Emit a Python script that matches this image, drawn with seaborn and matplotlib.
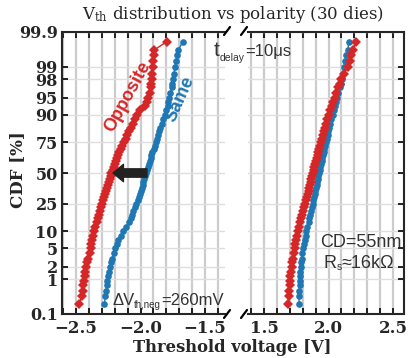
import numpy as np
import pandas as pd
import matplotlib
matplotlib.use('Agg')
import matplotlib.pyplot as plt
import seaborn as sns
from matplotlib.lines import Line2D
from matplotlib.ticker import MultipleLocator
from statistics import NormalDist

# cumulative probability [%] of each plotted point (shared by all four curves)
cdf_pct = [0.2, 0.35, 0.5, 0.7, 0.9, 1.2, 1.5, 2, 2.5, 3, 4, 5, 6, 7, 8.5, 10,
           12, 14, 16, 18, 20, 22.5, 25, 27.5, 30, 32.5, 35, 37.5, 40, 42.5, 45, 47.5,
           50, 52.5, 55, 57.5, 60, 62.5, 65, 67.5, 70, 72.5, 75, 77.5, 80, 82, 84, 86,
           88, 90, 91.5, 93, 94, 95, 96, 97, 97.5, 98, 98.5, 99, 99.3, 99.5, 99.65, 99.8]

# negative Vth, opposite polarity
vth_opp_neg = [-2.474, -2.455, -2.449, -2.443, -2.439, -2.434, -2.428, -2.420,
               -2.411, -2.404, -2.395, -2.386, -2.380, -2.374, -2.366, -2.360,
               -2.350, -2.340, -2.331, -2.322, -2.314, -2.306, -2.298, -2.290,
               -2.282, -2.274, -2.266, -2.258, -2.251, -2.244, -2.237, -2.231,
               -2.225, -2.217, -2.209, -2.200, -2.192, -2.183, -2.174, -2.164,
               -2.155, -2.143, -2.130, -2.116, -2.102, -2.090, -2.076, -2.060,
               -2.045, -2.028, -2.005, -1.968, -1.950, -1.938, -1.930, -1.922,
               -1.918, -1.914, -1.909, -1.904, -1.901, -1.897, -1.893, -1.797]
# negative Vth, same polarity
vth_same_neg = [-2.280, -2.273, -2.267, -2.262, -2.258, -2.252, -2.246, -2.236,
                -2.226, -2.218, -2.207, -2.198, -2.185, -2.172, -2.155, -2.135,
                -2.110, -2.090, -2.075, -2.064, -2.055, -2.044, -2.032, -2.022,
                -2.013, -2.005, -1.997, -1.990, -1.983, -1.977, -1.971, -1.965,
                -1.955, -1.949, -1.942, -1.936, -1.929, -1.922, -1.915, -1.907,
                -1.899, -1.891, -1.882, -1.873, -1.863, -1.855, -1.846, -1.836,
                -1.824, -1.811, -1.800, -1.790, -1.783, -1.776, -1.768, -1.759,
                -1.754, -1.748, -1.741, -1.732, -1.724, -1.716, -1.706, -1.673]
# positive Vth, opposite polarity
vth_opp_pos = [1.686, 1.690, 1.694, 1.698, 1.701, 1.705, 1.709, 1.714,
               1.719, 1.723, 1.730, 1.737, 1.744, 1.750, 1.758, 1.765,
               1.774, 1.782, 1.790, 1.797, 1.804, 1.812, 1.819, 1.826,
               1.833, 1.839, 1.845, 1.851, 1.857, 1.863, 1.868, 1.874,
               1.880, 1.886, 1.891, 1.897, 1.903, 1.909, 1.915, 1.921,
               1.928, 1.935, 1.942, 1.949, 1.957, 1.964, 1.972, 1.981,
               1.991, 2.002, 2.013, 2.026, 2.036, 2.047, 2.060, 2.076,
               2.087, 2.100, 2.118, 2.150, 2.167, 2.178, 2.190, 2.215]
# positive Vth, same polarity
vth_same_pos = [1.771, 1.772, 1.774, 1.776, 1.778, 1.780, 1.782, 1.785,
                1.788, 1.791, 1.797, 1.803, 1.809, 1.815, 1.822, 1.829,
                1.837, 1.845, 1.852, 1.858, 1.864, 1.870, 1.876, 1.882,
                1.887, 1.892, 1.897, 1.902, 1.907, 1.912, 1.917, 1.922,
                1.927, 1.932, 1.937, 1.942, 1.947, 1.952, 1.957, 1.962,
                1.968, 1.974, 1.980, 1.986, 1.993, 1.999, 2.006, 2.013,
                2.022, 2.032, 2.041, 2.051, 2.058, 2.066, 2.076, 2.088,
                2.094, 2.102, 2.110, 2.120, 2.128, 2.137, 2.149, 2.158]

ytick_pct = [0.1, 1, 2, 5, 10, 25, 50, 75, 90, 95, 98, 99, 99.9]
ytick_labels = ['0.1', '1', '2', '5', '10', '25', '50', '75', '90', '95', '98', '99', '99.9']
xticks_neg = [-2.5, -2.0, -1.5]
xticks_pos = [1.5, 2.0, 2.5]

RED = '#d62728'
BLUE = '#1f77b4'
TXT = '#333333'
W, H = 408, 358


def probit(p):
    nd = NormalDist()
    return np.array([nd.inv_cdf(v / 100.0) for v in p])


z = probit(cdf_pct)
frames = []
for side, pol, vals in [('neg', 'Same', vth_same_neg), ('neg', 'Opposite', vth_opp_neg),
                        ('pos', 'Same', vth_same_pos), ('pos', 'Opposite', vth_opp_pos)]:
    frames.append(pd.DataFrame({'vth': vals, 'z': z, 'polarity': pol, 'side': side}))
df = pd.concat(frames, ignore_index=True)

sns.set_style('ticks')
plt.rcParams['font.family'] = 'DejaVu Serif'
plt.rcParams['mathtext.fontset'] = 'dejavuserif'


def px(x0, y0, x1, y1):
    return [x0 / W, 1 - y1 / H, (x1 - x0) / W, (y1 - y0) / H]


fig = plt.figure(figsize=(W / 100, H / 100), dpi=100)
ax1 = fig.add_axes(px(62, 32, 225, 314))
ax2 = fig.add_axes(px(248, 32, 404, 314))

zt = probit(ytick_pct)
for ax, side, xlim, xt in [(ax1, 'neg', (-2.6085, -1.345), xticks_neg),
                           (ax2, 'pos', (1.376, 2.585), xticks_pos)]:
    sns.lineplot(data=df[df.side == side], x='vth', y='z', hue='polarity', style='polarity',
                 hue_order=['Same', 'Opposite'], style_order=['Same', 'Opposite'],
                 palette={'Same': BLUE, 'Opposite': RED},
                 markers={'Same': 'o', 'Opposite': 'D'}, dashes=False,
                 sort=False, estimator=None, legend=False, ax=ax,
                 lw=1, ms=4.8, mew=0)
    ax.set_xlim(*xlim)
    ax.set_ylim(zt[0], zt[-1])
    ax.set_xlabel('')
    ax.set_ylabel('')
    ax.set_xticks(xt, labels=[f'{t:.1f}'.replace('-', '\u2212') for t in xt],
                  fontweight='bold', fontsize=12)
    ax.xaxis.set_minor_locator(MultipleLocator(0.1))
    ax.set_yticks(zt)
    ax.set_axisbelow(True)
    ax.grid(which='both', axis='x', color='#cccccc', lw=1.6)
    ax.grid(which='major', axis='y', color='#dedede', lw=1)
    ax.tick_params(which='both', direction='in', top=True, bottom=True,
                   length=4.5, width=1.2, color='k', pad=4)
    for s in ax.spines.values():
        s.set_linewidth(1.5)

ax1.set_yticklabels(ytick_labels, fontweight='bold', fontsize=11.5)
ax1.tick_params(axis='y', left=True, right=False, pad=3)
ax1.spines['right'].set_visible(False)
ax2.tick_params(axis='y', left=False, right=True, labelleft=False)
ax2.spines['left'].set_visible(False)

# shift arrow between the two populations at 50 %
ax1.annotate('', xy=(-2.213, 0), xytext=(-1.95, 0),
             arrowprops=dict(arrowstyle='simple,head_length=0.75,head_width=1.25,tail_width=0.6',
                             color='#222222', shrinkA=0, shrinkB=0, mutation_scale=10))

# axis break marks
for x0 in (224, 241):
    for yb in (35, 318):
        fig.add_artist(Line2D([x0 / W, (x0 + 6) / W], [1 - yb / H, 1 - (yb - 8) / H],
                              color='k', lw=1.6, transform=fig.transFigure))

fig.text(233 / W, 1 - 19 / H, r'V$_{\mathrm{th}}$ distribution vs polarity (30 dies)',
         ha='center', va='baseline', fontsize=12, family='DejaVu Serif')
fig.text(232 / W, 1 - 347 / H, 'Threshold voltage [V]', ha='center', va='center',
         fontsize=11.8, fontweight='bold')
fig.text(18 / W, 1 - 170 / H, 'CDF [%]', ha='center', va='center', rotation=90,
         fontsize=12, fontweight='bold')

renderer = fig.canvas.get_renderer()


def rich(x, y, parts, ha='left'):
    # parts: (string, fontsize, baseline shift in px downwards)
    texts, cur = [], x
    for s, fs, dy in parts:
        t = fig.text(cur / W, 1 - (y + dy) / H, s, fontsize=fs, va='baseline', ha='left',
                     family='Liberation Sans', color=TXT)
        texts.append(t)
        cur += t.get_window_extent(renderer).width
    if ha == 'center':
        shift = (cur - x) / 2 / W
        for t in texts:
            tx, ty = t.get_position()
            t.set_position((tx - shift, ty))


rich(214, 56, [('t', 15, 0), ('delay', 7.5, 5), ('=10μs', 12, 0)])
rich(112, 305, [('ΔV', 12, 0), ('th,neg', 7, 3), ('=260mV', 12, 0)])
rich(361, 247, [('CD=55nm', 13, 0)], ha='center')
rich(359, 268, [('R', 13, 0), ('s', 7.5, 2), ('≈16kΩ', 13, 0)], ha='center')

fig.text(128 / W, 1 - 97 / H, 'Opposite', rotation=61, rotation_mode='anchor',
         ha='center', va='center', color=RED, fontsize=13, fontweight='bold',
         family='Liberation Sans')
fig.text(180 / W, 1 - 99 / H, 'Same', rotation=66, rotation_mode='anchor',
         ha='center', va='center', color=BLUE, fontsize=13, fontweight='bold',
         family='Liberation Sans')

fig.savefig('out.png', dpi=100)
